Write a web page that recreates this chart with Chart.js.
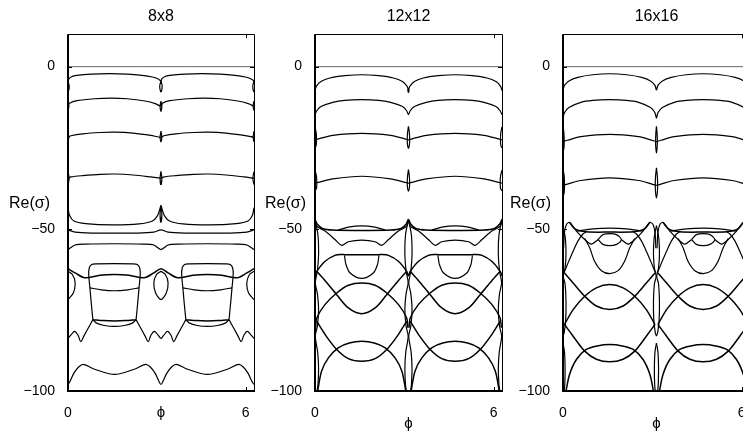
<!DOCTYPE html>
<html>
<head>
<meta charset="utf-8">
<title>Re(sigma) branches</title>
<script src="https://cdn.jsdelivr.net/npm/chart.js@4.4.1/dist/chart.umd.min.js"></script>
<style>
  html, body { margin: 0; padding: 0; background: #fff; width: 743px; height: 435px; overflow: hidden; }
  canvas { position: absolute; top: 0; }
</style>
</head>
<body>
<canvas id="panel8" width="257" height="435" style="left:0px"></canvas>
<canvas id="panel12" width="250" height="435" style="left:255px"></canvas>
<canvas id="panel16" width="251" height="435" style="left:502px"></canvas>
<script>
// phi runs 0..2pi, Re(sigma) from -100 to 10
const phiTicks = [0, 6];
const reTicks = [-100, -50, 0];
const panelTitles = ["8x8", "12x12", "16x16"];

const zeroBranch = [[0, 0], [6.283, 0]];

// ---- 8x8 ----
const branches8 = [
  [[0,-4.6],[0.03,-3.8],[0.12,-3.1],[0.3,-2.7],[0.8,-2.3],[1.4,-2.15],[2.0,-2.3],[2.5,-2.7],[2.85,-3.2],[3.05,-3.8],[3.14,-4.4],[3.17,-3.8],[3.26,-3.1],[3.44,-2.7],[3.94,-2.3],[4.54,-2.15],[5.14,-2.3],[5.64,-2.7],[5.99,-3.2],[6.19,-3.8],[6.283,-4.4]],
  [[3.14,-4.4],[3.10,-5.8],[3.11,-7.1],[3.14,-7.8],[3.17,-7.1],[3.18,-5.8],[3.14,-4.4]],
  [[0,-4.6],[0.04,-5.9],[0.03,-7.1],[0,-7.8]],
  [[6.283,-4.4],[6.243,-5.9],[6.253,-7.1],[6.283,-7.8]],
  [[0,-12.0],[0.05,-11.3],[0.3,-10.5],[0.9,-9.9],[1.45,-9.7],[2.0,-9.9],[2.6,-10.6],[2.95,-11.4],[3.14,-12.2],[3.19,-11.3],[3.44,-10.5],[4.04,-9.9],[4.59,-9.7],[5.14,-9.9],[5.74,-10.6],[6.09,-11.4],[6.283,-12.2]],
  [[3.14,-10.6],[3.11,-12.2],[3.14,-13.8],[3.17,-12.2],[3.14,-10.6]],
  [[0,-10.6],[0.03,-12.1],[0,-13.6]],
  [[6.283,-10.6],[6.253,-12.1],[6.283,-13.6]],
  [[0,-21.8],[0.1,-21.3],[0.5,-20.7],[1.1,-20.3],[1.6,-20.2],[2.2,-20.5],[2.8,-21.2],[3.14,-21.8],[3.24,-21.3],[3.64,-20.7],[4.24,-20.3],[4.74,-20.2],[5.34,-20.5],[5.94,-21.2],[6.283,-21.8]],
  [[3.14,-19.9],[3.11,-21.8],[3.14,-23.2],[3.17,-21.8],[3.14,-19.9]],
  [[0,-19.9],[0.03,-21.8],[0,-23.2]],
  [[6.283,-19.9],[6.253,-21.8],[6.283,-23.2]],
  [[0,-34.4],[0.1,-34.0],[0.5,-33.6],[1.1,-33.2],[1.6,-33.1],[2.2,-33.4],[2.8,-34.0],[3.14,-34.4],[3.24,-34.0],[3.64,-33.6],[4.24,-33.2],[4.74,-33.1],[5.34,-33.4],[5.94,-34.0],[6.283,-34.4]],
  [[3.14,-32.3],[3.11,-34.4],[3.14,-36.4],[3.17,-34.4],[3.14,-32.3]],
  [[0,-32.4],[0.04,-34.4],[0,-36.4]],
  [[6.283,-32.4],[6.243,-34.4],[6.283,-36.4]],
  [[0,-43.5],[0.05,-45.8],[0.2,-47.6],[0.6,-48.4],[1.5,-48.8],[2.4,-48.5],[2.85,-47.6],[3.02,-46.0],[3.1,-44.0],[3.14,-42.8],[3.18,-44.0],[3.26,-46.0],[3.43,-47.6],[3.88,-48.5],[4.78,-48.8],[5.68,-48.4],[6.08,-47.6],[6.23,-45.8],[6.283,-43.5]],
  [[3.14,-42.8],[3.11,-45.5],[3.14,-48.0],[3.17,-45.5],[3.14,-42.8]],
  [[0,-50.3],[0.24,-51.0],[0.8,-51.3],[1.57,-51.3],[2.34,-51.3],[2.9,-51.0],[3.14,-50.3],[3.38,-51.0],[3.94,-51.3],[4.71,-51.3],[5.48,-51.3],[6.04,-51.0],[6.283,-50.3]],
  [[0,-56.4],[0.24,-55.0],[0.6,-54.7],[1.57,-54.6],[2.54,-54.7],[2.9,-55.0],[3.14,-56.4],[3.38,-55.0],[3.74,-54.7],[4.71,-54.6],[5.68,-54.7],[6.04,-55.0],[6.283,-56.4]],
  [[0.84,-78.0],[0.79,-73.3],[0.74,-68.2],[0.70,-64.1],[0.72,-62.0],[0.80,-61.0],[0.95,-60.8],[1.57,-60.7],[2.19,-60.8],[2.34,-61.0],[2.42,-62.0],[2.44,-64.1],[2.40,-68.2],[2.35,-73.3],[2.30,-78.0]],
  [[3.98,-78.0],[3.93,-73.3],[3.88,-68.2],[3.84,-64.1],[3.86,-62.0],[3.94,-61.0],[4.09,-60.8],[4.71,-60.7],[5.33,-60.8],[5.48,-61.0],[5.56,-62.0],[5.58,-64.1],[5.54,-68.2],[5.49,-73.3],[5.44,-78.0]],
  [[0,-63.1],[0.15,-64.1],[0.24,-66.7],[0.18,-69.8],[0,-71.8]],
  [[3.14,-63.1],[2.99,-64.1],[2.90,-66.7],[2.96,-69.8],[3.14,-71.8],[3.32,-69.8],[3.38,-66.7],[3.29,-64.1],[3.14,-63.1]],
  [[6.283,-63.1],[6.13,-64.1],[6.04,-66.7],[6.10,-69.8],[6.283,-71.8]],
  [[0.74,-68.2],[1.12,-68.8],[1.57,-69.1],[2.02,-68.8],[2.40,-68.2]],
  [[3.88,-68.2],[4.26,-68.8],[4.71,-69.1],[5.16,-68.8],[5.54,-68.2]],
  [[0.84,-78.0],[0.95,-79.0],[1.23,-79.8],[1.57,-80.1],[1.91,-79.8],[2.19,-79.0],[2.30,-78.0]],
  [[3.98,-78.0],[4.09,-79.0],[4.37,-79.8],[4.71,-80.1],[5.05,-79.8],[5.33,-79.0],[5.44,-78.0]],
  [[2.30,-78.0],[2.45,-80.5],[2.60,-83.0],[2.71,-84.8],[2.80,-82.8],[2.92,-81.6],[3.03,-82.6],[3.14,-83.8],[3.25,-82.6],[3.36,-81.6],[3.48,-82.8],[3.57,-84.8],[3.68,-83.0],[3.83,-80.5],[3.98,-78.0]],
  [[0,-83.8],[0.11,-82.6],[0.22,-81.6],[0.34,-82.8],[0.43,-84.8],[0.54,-83.0],[0.69,-80.5],[0.84,-78.0]],
  [[5.44,-78.0],[5.59,-80.5],[5.74,-83.0],[5.85,-84.8],[5.94,-82.8],[6.06,-81.6],[6.17,-82.6],[6.283,-83.8]],
  [[0,-98.0],[0.07,-97.0],[0.2,-94.5],[0.36,-92.6],[0.52,-91.8],[0.9,-93.3],[1.57,-94.9],[2.24,-93.3],[2.62,-91.8],[2.78,-92.6],[2.94,-94.5],[3.07,-97.0],[3.14,-98.0],[3.21,-97.0],[3.34,-94.5],[3.50,-92.6],[3.66,-91.8],[4.04,-93.3],[4.71,-94.9],[5.38,-93.3],[5.76,-91.8],[5.92,-92.6],[6.08,-94.5],[6.21,-97.0],[6.283,-98.0]]
];
const boldBranches8 = [
  [[0,-62.3],[0.24,-63.6],[0.57,-65.1],[1.08,-64.3],[1.57,-64.1],[2.06,-64.3],[2.57,-65.1],[2.90,-63.6],[3.14,-62.3],[3.38,-63.6],[3.71,-65.1],[4.22,-64.3],[4.71,-64.1],[5.20,-64.3],[5.71,-65.1],[6.04,-63.6],[6.283,-62.3]],
  [[0.84,-78.0],[1.2,-78.3],[1.57,-78.4],[1.94,-78.3],[2.30,-78.0]],
  [[3.98,-78.0],[4.34,-78.3],[4.71,-78.4],[5.08,-78.3],[5.44,-78.0]]
];

// ---- 12x12 ----
const branches12 = [
  [[0,-7.4],[0.05,-6.0],[0.2,-4.6],[0.5,-3.5],[1.0,-2.8],[1.57,-2.5],[2.14,-2.8],[2.64,-3.5],[2.94,-4.6],[3.09,-6.0],[3.14,-7.0],[3.19,-6.0],[3.34,-4.6],[3.64,-3.5],[4.14,-2.8],[4.71,-2.5],[5.28,-2.8],[5.78,-3.5],[6.08,-4.6],[6.23,-6.0],[6.283,-7.4]],
  [[3.14,-6.6],[3.12,-7.3],[3.14,-8.0],[3.16,-7.3],[3.14,-6.6]],
  [[0,-14.8],[0.06,-13.6],[0.2,-12.3],[0.6,-11.0],[1.0,-10.4],[1.57,-10.2],[2.14,-10.4],[2.54,-11.0],[2.94,-12.3],[3.08,-13.6],[3.14,-14.8],[3.20,-13.6],[3.34,-12.3],[3.74,-11.0],[4.14,-10.4],[4.71,-10.2],[5.28,-10.4],[5.68,-11.0],[6.08,-12.3],[6.22,-13.6],[6.283,-14.8]],
  [[0,-22.6],[0.15,-22.2],[0.6,-21.2],[1.57,-20.6],[2.54,-21.2],[2.99,-22.2],[3.14,-22.6],[3.29,-22.2],[3.74,-21.2],[4.71,-20.6],[5.68,-21.2],[6.13,-22.2],[6.283,-22.6]],
  [[3.14,-18.4],[3.11,-20.3],[3.10,-22.6],[3.11,-24.3],[3.14,-25.2],[3.17,-24.3],[3.18,-22.6],[3.17,-20.3],[3.14,-18.4]],
  [[0,-18.6],[0.04,-20.4],[0.05,-22.6],[0.04,-24.3],[0,-25.1]],
  [[6.283,-18.6],[6.243,-20.4],[6.233,-22.6],[6.243,-24.3],[6.283,-25.1]],
  [[0,-35.9],[0.15,-35.6],[0.6,-34.6],[1.57,-33.8],[2.54,-34.6],[2.99,-35.6],[3.14,-35.9],[3.29,-35.6],[3.74,-34.6],[4.71,-33.8],[5.68,-34.6],[6.13,-35.6],[6.283,-35.9]],
  [[3.14,-31.7],[3.11,-33.8],[3.10,-35.9],[3.11,-37.5],[3.14,-38.4],[3.17,-37.5],[3.18,-35.9],[3.17,-33.8],[3.14,-31.7]],
  [[0,-31.9],[0.05,-33.8],[0.06,-35.9],[0.05,-37.5],[0,-38.3]],
  [[6.283,-31.9],[6.233,-33.8],[6.223,-35.9],[6.233,-37.5],[6.283,-38.3]],
  [[0.78,-50.4],[1.12,-49.5],[1.57,-49.1],[2.02,-49.5],[2.36,-50.4]],
  [[3.92,-50.4],[4.26,-49.5],[4.71,-49.1],[5.16,-49.5],[5.50,-50.4]],
  [[0,-47.1],[0.06,-49.2],[0.34,-50.7],[0.67,-53.3],[0.90,-55.1],[1.12,-54.0],[1.57,-53.5],[2.02,-54.0],[2.24,-55.1],[2.47,-53.3],[2.80,-50.7],[3.08,-49.2],[3.14,-47.1],[3.20,-49.2],[3.48,-50.7],[3.81,-53.3],[4.04,-55.1],[4.26,-54.0],[4.71,-53.5],[5.16,-54.0],[5.38,-55.1],[5.61,-53.3],[5.94,-50.7],[6.22,-49.2],[6.283,-47.1]],
  [[0.99,-58.2],[1.01,-59.5],[1.04,-61.0],[1.18,-63.6],[1.57,-65.3],[1.96,-63.6],[2.10,-61.0],[2.13,-59.5],[2.15,-58.2]],
  [[4.13,-58.2],[4.15,-59.5],[4.18,-61.0],[4.32,-63.6],[4.71,-65.3],[5.10,-63.6],[5.24,-61.0],[5.27,-59.5],[5.29,-58.2]],
  [[3.14,-47.1],[3.04,-52],[3.02,-58],[3.06,-63],[3.13,-66.6],[3.06,-70],[3.02,-75],[3.06,-80],[3.13,-83.1],[3.05,-88],[3.02,-93],[3.04,-98],[3.07,-100]],
  [[3.14,-47.1],[3.24,-52],[3.26,-58],[3.22,-63],[3.15,-66.6],[3.22,-70],[3.26,-75],[3.22,-80],[3.15,-83.1],[3.23,-88],[3.26,-93],[3.24,-98],[3.21,-100]],
  [[0,-47.1],[0.10,-52],[0.12,-58],[0.08,-63],[0.01,-66.6],[0.08,-70],[0.12,-75],[0.08,-80],[0.01,-83.1],[0.09,-88],[0.12,-93],[0.10,-98],[0.07,-100]],
  [[6.283,-47.1],[6.18,-52],[6.16,-58],[6.20,-63],[6.27,-66.6],[6.20,-70],[6.16,-75],[6.20,-80],[6.27,-83.1],[6.19,-88],[6.16,-93],[6.18,-98],[6.21,-100]]
];
const boldBranches12 = [
  [[0,-47.1],[0.08,-48.6],[0.25,-49.9],[0.6,-50.4],[1.57,-50.5],[2.54,-50.4],[2.89,-49.9],[3.06,-48.6],[3.14,-47.1],[3.22,-48.6],[3.39,-49.9],[3.74,-50.4],[4.71,-50.5],[5.68,-50.4],[6.03,-49.9],[6.20,-48.6],[6.283,-47.1]],
  [[0,-64.5],[0.06,-63.1],[0.34,-60.0],[0.67,-58.2],[0.90,-57.9],[1.01,-58.0],[1.57,-58.0],[2.13,-58.0],[2.24,-57.9],[2.47,-58.2],[2.80,-60.0],[3.08,-63.1],[3.14,-64.5],[3.20,-63.1],[3.48,-60.0],[3.81,-58.2],[4.04,-57.9],[4.15,-58.0],[4.71,-58.0],[5.27,-58.0],[5.38,-57.9],[5.61,-58.2],[5.94,-60.0],[6.22,-63.1],[6.283,-64.5]],
  [[0.02,-80.5],[0.06,-77.5],[0.34,-73.3],[0.73,-69.8],[1.12,-67.4],[1.57,-66.7],[2.02,-67.4],[2.41,-69.8],[2.80,-73.3],[3.08,-77.5],[3.12,-80.5]],
  [[3.16,-80.5],[3.20,-77.5],[3.48,-73.3],[3.87,-69.8],[4.26,-67.4],[4.71,-66.7],[5.16,-67.4],[5.55,-69.8],[5.94,-73.3],[6.22,-77.5],[6.26,-80.5]],
  [[0.06,-63.1],[0.34,-66.0],[0.73,-70.3],[1.12,-74.4],[1.57,-76.2],[2.02,-74.4],[2.41,-70.3],[2.80,-66.0],[3.08,-63.1]],
  [[3.20,-63.1],[3.48,-66.0],[3.87,-70.3],[4.26,-74.4],[4.71,-76.2],[5.16,-74.4],[5.55,-70.3],[5.94,-66.0],[6.22,-63.1]],
  [[0.06,-78.5],[0.34,-82.6],[0.73,-87.2],[1.12,-90.0],[1.57,-90.8],[2.02,-90.0],[2.41,-87.2],[2.80,-82.6],[3.08,-78.5]],
  [[3.20,-78.5],[3.48,-82.6],[3.87,-87.2],[4.26,-90.0],[4.71,-90.8],[5.16,-90.0],[5.55,-87.2],[5.94,-82.6],[6.22,-78.5]],
  [[0.09,-100],[0.22,-93.9],[0.45,-89.8],[0.78,-86.7],[1.15,-85.2],[1.57,-84.7],[1.99,-85.2],[2.36,-86.7],[2.69,-89.8],[2.92,-93.9],[3.05,-100]],
  [[3.23,-100],[3.36,-93.9],[3.59,-89.8],[3.92,-86.7],[4.29,-85.2],[4.71,-84.7],[5.13,-85.2],[5.50,-86.7],[5.83,-89.8],[6.06,-93.9],[6.19,-100]]
];

// ---- 16x16 ----
const branches16 = [
  [[0,-7.2],[0.05,-5.8],[0.2,-4.4],[0.5,-3.3],[1.0,-2.5],[1.57,-2.2],[2.14,-2.5],[2.64,-3.3],[2.94,-4.4],[3.09,-5.8],[3.14,-7.2],[3.19,-5.8],[3.34,-4.4],[3.64,-3.3],[4.14,-2.5],[4.71,-2.2],[5.28,-2.5],[5.78,-3.3],[6.08,-4.4],[6.23,-5.8],[6.283,-7.2]],
  [[0,-15.9],[0.05,-14.2],[0.2,-12.6],[0.6,-11.0],[1.0,-10.4],[1.57,-10.2],[2.14,-10.4],[2.54,-11.0],[2.94,-12.6],[3.09,-14.2],[3.14,-15.9],[3.19,-14.2],[3.34,-12.6],[3.74,-11.0],[4.14,-10.4],[4.71,-10.2],[5.28,-10.4],[5.68,-11.0],[6.08,-12.6],[6.23,-14.2],[6.283,-15.9]],
  [[0,-23.1],[0.15,-22.7],[0.6,-21.6],[1.57,-20.9],[2.54,-21.6],[2.99,-22.7],[3.14,-23.1],[3.29,-22.7],[3.74,-21.6],[4.71,-20.9],[5.68,-21.6],[6.13,-22.7],[6.283,-23.1]],
  [[3.14,-18.4],[3.12,-20.5],[3.11,-23.1],[3.12,-25.2],[3.14,-26.6],[3.16,-25.2],[3.17,-23.1],[3.16,-20.5],[3.14,-18.4]],
  [[0,-18.0],[0.03,-20.5],[0.04,-23.1],[0.03,-25.2],[0,-26.2]],
  [[6.283,-18.0],[6.253,-20.5],[6.243,-23.1],[6.253,-25.2],[6.283,-26.2]],
  [[0,-36.6],[0.15,-36.2],[0.6,-35.1],[1.57,-34.3],[2.54,-35.1],[2.99,-36.2],[3.14,-36.6],[3.29,-36.2],[3.74,-35.1],[4.71,-34.3],[5.68,-35.1],[6.13,-36.2],[6.283,-36.6]],
  [[3.14,-31.2],[3.11,-33.8],[3.10,-36.6],[3.11,-38.8],[3.14,-40.5],[3.17,-38.8],[3.18,-36.6],[3.17,-33.8],[3.14,-31.2]],
  [[0,-31.5],[0.04,-33.8],[0.05,-36.6],[0.04,-38.8],[0,-40.2]],
  [[6.283,-31.5],[6.243,-33.8],[6.233,-36.6],[6.243,-38.8],[6.283,-40.2]],
  [[0.45,-50.7],[1.01,-50.0],[1.57,-49.8],[2.13,-50.0],[2.69,-50.7]],
  [[3.59,-50.7],[4.15,-50.0],[4.71,-49.8],[5.27,-50.0],[5.83,-50.7]],
  [[0.02,-56],[0.05,-51],[0.12,-48.6],[0.22,-48.0],[0.33,-49.2],[0.45,-50.7],[0.73,-53.3],[0.95,-54.7],[1.18,-53.3]],
  [[3.12,-56],[3.09,-51],[3.02,-48.6],[2.92,-48.0],[2.81,-49.2],[2.69,-50.7],[2.41,-53.3],[2.19,-54.7],[1.96,-53.3]],
  [[3.16,-56],[3.19,-51],[3.26,-48.6],[3.36,-48.0],[3.47,-49.2],[3.59,-50.7],[3.87,-53.3],[4.09,-54.7],[4.32,-53.3]],
  [[6.26,-56],[6.23,-51],[6.16,-48.6],[6.06,-48.0],[5.95,-49.2],[5.83,-50.7],[5.55,-53.3],[5.33,-54.7],[5.10,-53.3]],
  [[1.18,-53.3],[1.34,-51.8],[1.57,-51.5],[1.80,-51.8],[1.96,-53.3],[1.80,-54.8],[1.57,-55.2],[1.34,-54.8],[1.18,-53.3]],
  [[4.32,-53.3],[4.48,-51.8],[4.71,-51.5],[4.94,-51.8],[5.10,-53.3],[4.94,-54.8],[4.71,-55.2],[4.48,-54.8],[4.32,-53.3]],
  [[0.73,-53.0],[0.90,-55.9],[1.06,-60.0],[1.29,-62.9],[1.57,-63.8],[1.85,-62.9],[2.07,-60.0],[2.24,-55.9],[2.41,-53.0]],
  [[3.87,-53.0],[4.04,-55.9],[4.20,-60.0],[4.43,-62.9],[4.71,-63.8],[4.99,-62.9],[5.21,-60.0],[5.38,-55.9],[5.55,-53.0]],
  [[0.03,-63.6],[0.17,-60.5],[0.34,-56.9],[0.50,-53.8],[0.67,-51.6],[0.78,-50.9]],
  [[3.11,-63.6],[2.97,-60.5],[2.80,-56.9],[2.64,-53.8],[2.47,-51.6],[2.36,-50.9]],
  [[3.17,-63.6],[3.31,-60.5],[3.48,-56.9],[3.64,-53.8],[3.81,-51.6],[3.92,-50.9]],
  [[6.25,-63.6],[6.11,-60.5],[5.94,-56.9],[5.78,-53.8],[5.61,-51.6],[5.50,-50.9]],
  [[3.14,-49],[3.06,-53],[3.04,-58],[3.07,-62],[3.13,-64.6],[3.07,-67],[3.04,-72],[3.05,-78],[3.10,-82],[3.14,-83.1]],
  [[3.14,-49],[3.22,-53],[3.24,-58],[3.21,-62],[3.15,-64.6],[3.21,-67],[3.24,-72],[3.23,-78],[3.18,-82],[3.14,-83.1]],
  [[3.14,-85.2],[3.09,-88],[3.07,-93],[3.08,-98],[3.10,-100]],
  [[3.14,-85.2],[3.19,-88],[3.21,-93],[3.20,-98],[3.18,-100]],
  [[0,-49],[0.08,-53],[0.10,-58],[0.07,-62],[0.01,-64.6],[0.07,-67],[0.10,-72],[0.09,-78],[0.04,-82],[0,-83.1]],
  [[0,-85.2],[0.05,-88],[0.07,-93],[0.06,-98],[0.04,-100]],
  [[6.283,-49],[6.20,-53],[6.18,-58],[6.21,-62],[6.27,-64.6],[6.21,-67],[6.18,-72],[6.19,-78],[6.24,-82],[6.283,-83.1]],
  [[6.283,-85.2],[6.23,-88],[6.21,-93],[6.22,-98],[6.24,-100]]
];
const boldBranches16 = [
  [[0.22,-48.0],[0.40,-50.0],[0.78,-50.9],[1.57,-51.0],[2.36,-50.9],[2.74,-50.0],[2.92,-48.0]],
  [[3.36,-48.0],[3.54,-50.0],[3.92,-50.9],[4.71,-51.0],[5.50,-50.9],[5.88,-50.0],[6.06,-48.0]],
  [[0.05,-79.5],[0.34,-74.9],[0.73,-70.8],[1.12,-68.2],[1.57,-67.2],[2.02,-68.2],[2.41,-70.8],[2.80,-74.9],[3.09,-79.5]],
  [[3.19,-79.5],[3.48,-74.9],[3.87,-70.8],[4.26,-68.2],[4.71,-67.2],[5.16,-68.2],[5.55,-70.8],[5.94,-74.9],[6.23,-79.5]],
  [[0.05,-63.6],[0.34,-66.7],[0.73,-70.8],[1.12,-73.8],[1.57,-74.9],[2.02,-73.8],[2.41,-70.8],[2.80,-66.7],[3.09,-63.6]],
  [[3.19,-63.6],[3.48,-66.7],[3.87,-70.8],[4.26,-73.8],[4.71,-74.9],[5.16,-73.8],[5.55,-70.8],[5.94,-66.7],[6.23,-63.6]],
  [[0.05,-79.5],[0.34,-83.1],[0.73,-87.7],[1.12,-90.2],[1.57,-91.0],[2.02,-90.2],[2.41,-87.7],[2.80,-83.1],[3.09,-79.5]],
  [[3.19,-79.5],[3.48,-83.1],[3.87,-87.7],[4.26,-90.2],[4.71,-91.0],[5.16,-90.2],[5.55,-87.7],[5.94,-83.1],[6.23,-79.5]],
  [[0.10,-100],[0.22,-94.9],[0.45,-90.3],[0.78,-87.2],[1.15,-86.1],[1.57,-85.7],[1.99,-86.1],[2.36,-87.2],[2.69,-90.3],[2.92,-94.9],[3.04,-100]],
  [[3.24,-100],[3.36,-94.9],[3.59,-90.3],[3.92,-87.2],[4.29,-86.1],[4.71,-85.7],[5.13,-86.1],[5.50,-87.2],[5.83,-90.3],[6.06,-94.9],[6.18,-100]]
];

Chart.defaults.font.family = "'Liberation Sans', Arial, Helvetica, sans-serif";
Chart.defaults.font.size = 14;
Chart.defaults.color = '#000';

// box around the plot, inward ticks and the horizontal Re(sigma) label
const framePlugin = {
  id: 'frame',
  afterDatasetsDraw(chart, args, opts) {
    const {ctx, chartArea: a, scales: {x, y}} = chart;
    ctx.save();
    ctx.strokeStyle = '#000';
    ctx.lineWidth = 1;
    ctx.beginPath();
    phiTicks.forEach(v => {
      const px = Math.round(x.getPixelForValue(v)) + 0.5;
      ctx.moveTo(px, a.top); ctx.lineTo(px, a.top + 4);
      ctx.moveTo(px, a.bottom); ctx.lineTo(px, a.bottom - 4);
    });
    reTicks.forEach(v => {
      const py = Math.round(y.getPixelForValue(v)) + 0.5;
      ctx.moveTo(a.left, py); ctx.lineTo(a.left + 4, py);
      ctx.moveTo(a.right, py); ctx.lineTo(a.right - 4, py);
    });
    ctx.stroke();
    ctx.beginPath();
    ctx.moveTo(a.left, Math.round(a.top) + 0.5);
    ctx.lineTo(Math.round(a.right) + 0.5, Math.round(a.top) + 0.5);
    ctx.lineTo(Math.round(a.right) + 0.5, a.bottom);
    ctx.stroke();
    ctx.lineWidth = 2;
    ctx.beginPath();
    ctx.moveTo(a.left, a.top);
    ctx.lineTo(a.left, a.bottom);
    ctx.lineTo(a.right + 1, a.bottom);
    ctx.stroke();
    ctx.font = "16px 'Liberation Sans', Arial, sans-serif";
    ctx.fillStyle = '#000';
    ctx.textAlign = 'right';
    ctx.textBaseline = 'middle';
    ctx.fillText('Re(\u03C3)', a.left - opts.labelGap, a.top + opts.labelDrop);
    ctx.restore();
  }
};

function toDatasets(list, width, color) {
  return list.map(b => ({
    data: b.map(p => ({x: p[0], y: p[1]})),
    borderColor: color,
    borderWidth: width,
    pointRadius: 0,
    tension: 0.3,
    fill: false
  }));
}

function drawPanel(id, title, thin, bold, yWidth, phiPad, labelGap) {
  const datasets = toDatasets([zeroBranch], 0.8, '#444')
    .concat(toDatasets(thin, 1.2, '#000'))
    .concat(toDatasets(bold, 1.5, '#000'));
  new Chart(document.getElementById(id), {
    type: 'line',
    data: {datasets: datasets},
    options: {
      responsive: false,
      animation: false,
      events: [],
      layout: {padding: {right: 3}},
      plugins: {
        legend: {display: false},
        tooltip: {enabled: false},
        title: {display: true, text: title, fullSize: false, color: '#000',
                font: {size: 16, weight: 'normal'}, padding: {top: 7, bottom: 8}},
        frame: {labelGap: labelGap, labelDrop: 169}
      },
      scales: {
        x: {
          type: 'linear', min: 0, max: 6.2832,
          grid: {display: false}, border: {display: false},
          afterBuildTicks: s => { s.ticks = phiTicks.map(v => ({value: v})); },
          afterFit: s => { s.height = 44; },
          ticks: {padding: 6, callback: v => String(v)},
          title: {display: true, text: '\u03D5', font: {size: 15}, padding: {top: 0, bottom: phiPad}}
        },
        y: {
          min: -100, max: 10,
          grid: {display: false}, border: {display: false},
          afterBuildTicks: s => { s.ticks = reTicks.map(v => ({value: v})); },
          afterFit: s => { s.width = yWidth; },
          ticks: {padding: 5, callback: v => (v < 0 ? '\u2212' + Math.abs(v) : String(v))}
        }
      }
    },
    plugins: [framePlugin]
  });
}

drawPanel('panel8', panelTitles[0], branches8, boldBranches8, 68, 13, 18);
drawPanel('panel12', panelTitles[1], branches12, boldBranches12, 60, 2.5, 9);
drawPanel('panel16', panelTitles[2], branches16, boldBranches16, 61, 2.5, 12);
</script>
</body>
</html>
